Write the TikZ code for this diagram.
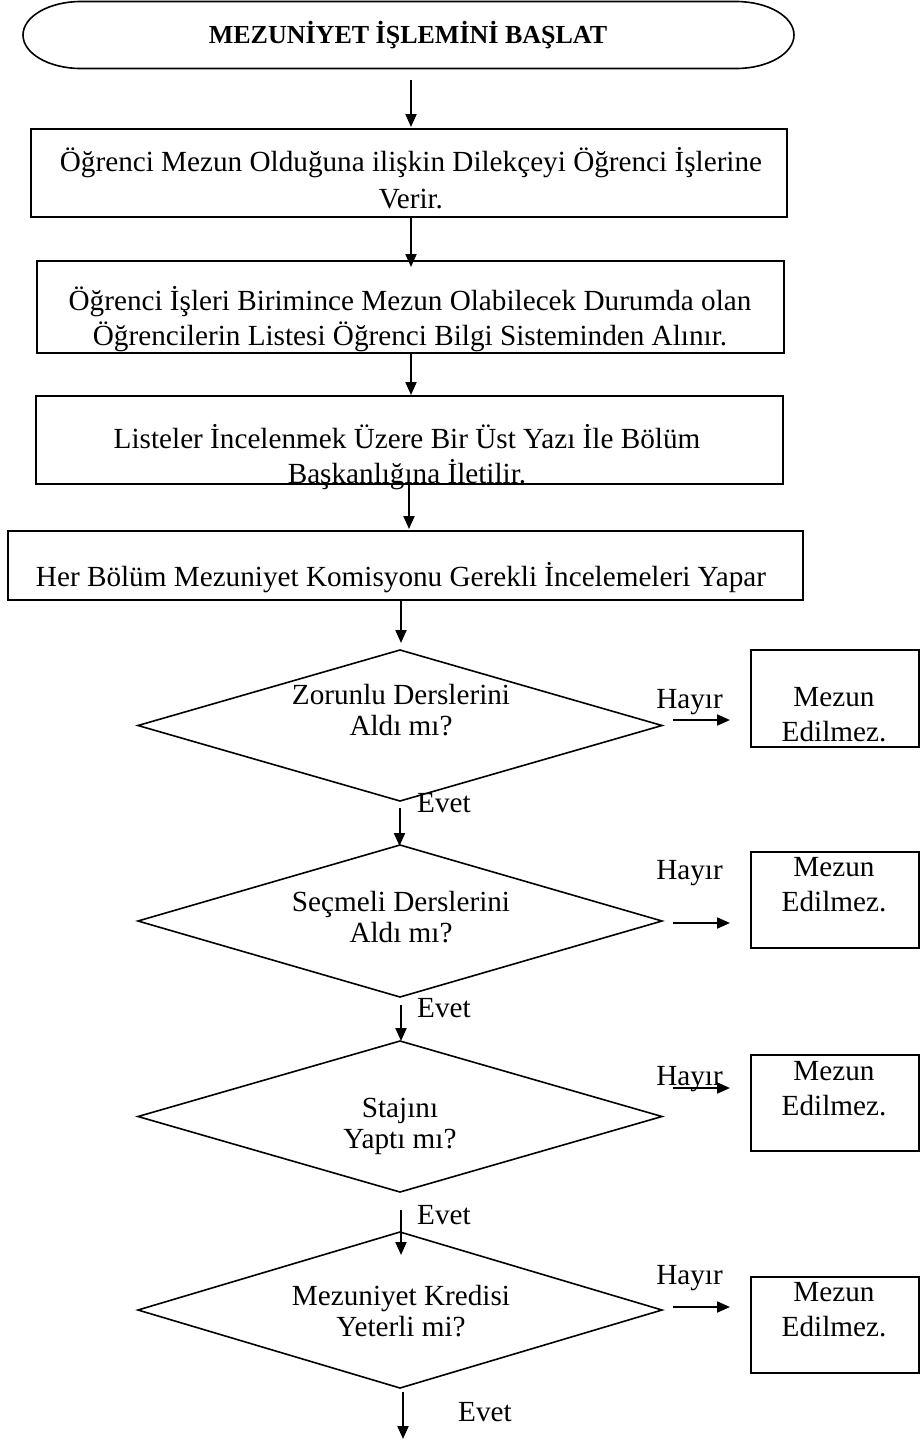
\documentclass[tikz,border=0pt]{standalone}
\usepackage{fontspec}
\setmainfont{Liberation Serif}
\usetikzlibrary{shapes.geometric,arrows.meta}
\begin{document}
\begin{tikzpicture}[x=1pt,y=-1pt,
  shp/.style={line width=1.6pt},
  box/.style={draw,line width=1.6pt,rectangle,inner sep=0pt,outer sep=0pt},
  dia/.style={draw,line width=1.6pt,diamond,inner sep=0pt,outer sep=0pt,minimum width=524pt},
  arr/.style={line width=2pt,-{Triangle[length=13pt,width=11pt]}},
  txt/.style={font=\fontsize{29.2}{35}\selectfont,align=center,inner sep=0pt},
]
\useasboundingbox (0,0) rectangle (924,1441);

% start terminator
\node[rectangle,minimum width=771pt,minimum height=67pt,inner sep=0pt,outer sep=0pt] (start) at (408.5,35) {};
\draw[shp] ([xshift=58pt]start.north west) -- ([xshift=-58pt]start.north east)
  arc[start angle=-90,end angle=90,x radius=58,y radius=33.5]
  -- ([xshift=58pt]start.south west)
  arc[start angle=90,end angle=270,x radius=58,y radius=33.5] -- cycle;
\node[inner sep=0pt,font=\fontsize{26}{30}\selectfont\bfseries] (starttxt) at (408,35) {MEZUNİYET İŞLEMİNİ BAŞLAT};

% process boxes
\node[box,minimum width=756pt,minimum height=88pt] (b1) at (409,173) {};
\node[txt,font=\fontsize{29.2}{37}\selectfont] (t1) at (411,178.5) {Öğrenci Mezun Olduğuna ilişkin Dilekçeyi Öğrenci İşlerine\\Verir.};

\node[box,minimum width=747pt,minimum height=92pt] (b2) at (410.5,307) {};
\node[txt] (t2) at (410,319.5) {Öğrenci İşleri Birimince Mezun Olabilecek Durumda olan\\Öğrencilerin Listesi Öğrenci Bilgi Sisteminden Alınır.};

\node[box,minimum width=747pt,minimum height=88pt] (b3) at (409.5,440) {};
\node[txt] (t3) at (407,457.5) {Listeler İncelenmek Üzere Bir Üst Yazı İle Bölüm\\Başkanlığına İletilir.};

\node[box,minimum width=795pt,minimum height=69pt] (b4) at (405.5,565.5) {};
\node[txt] (t4) at (401,578) {Her Bölüm Mezuniyet Komisyonu Gerekli İncelemeleri Yapar};

% decisions
\node[dia,minimum height=151pt] (d1) at (400,725.5) {};
\node[txt,font=\fontsize{29.2}{31}\selectfont] (q1) at (401,710) {Zorunlu Derslerini\\Aldı mı?};
\node[dia,minimum height=152pt] (d2) at (400,921) {};
\node[txt,font=\fontsize{29.2}{31}\selectfont] (q2) at (401,917.5) {Seçmeli Derslerini\\Aldı mı?};
\node[dia,minimum height=151pt] (d3) at (400,1116.5) {};
\node[txt,font=\fontsize{29.2}{31}\selectfont] (q3) at (400,1126) {Stajını\\Yaptı mı?};
\node[dia,minimum height=156pt] (d4) at (400,1310) {};
\node[txt,font=\fontsize{29.2}{31}\selectfont] (q4) at (401,1311.5) {Mezuniyet Kredisi\\Yeterli mi?};

% reject boxes
\node[box,minimum width=168pt,minimum height=97pt] (m1) at (835,698.5) {};
\node[txt] (mt1) at (834,714.5) {Mezun\\Edilmez.};
\node[box,minimum width=168pt,minimum height=96pt] (m2) at (835,900) {};
\node[txt] (mt2) at (834,884.5) {Mezun\\Edilmez.};
\node[box,minimum width=168pt,minimum height=96pt] (m3) at (835,1103) {};
\node[txt] (mt3) at (834,1089) {Mezun\\Edilmez.};
\node[box,minimum width=168pt,minimum height=96pt] (m4) at (835,1325) {};
\node[txt] (mt4) at (834,1310) {Mezun\\Edilmez.};

% vertical arrows
\draw[arr,shorten <=11.5pt,shorten >=2pt] ([xshift=2.5pt]start.south) -- ([xshift=2pt]b1.north);
\draw[arr,shorten >=-6pt] ([xshift=2pt]b1.south) -- ([xshift=0.5pt]b2.north);
\draw[arr,shorten >=1pt] ([xshift=0.5pt]b2.south) -- ([xshift=1.5pt]b3.north);
\draw[arr,shorten >=2pt] ([xshift=-0.5pt]b3.south) -- ([xshift=3.5pt]b4.north);
\draw[arr,shorten >=7pt] ([xshift=-4.5pt]b4.south) -- ([xshift=1pt]d1.north);
\draw[arr,shorten <=7pt,shorten >=-1pt] ([xshift=-0.5pt]d1.south) -- ([xshift=-0.5pt]d2.north);
\draw[arr,shorten <=8pt] ([xshift=1pt]d2.south) -- ([xshift=1pt]d3.north);
\draw[arr,shorten <=18pt,shorten >=-23pt] ([xshift=1pt]d3.south) -- ([xshift=1pt]d4.north);
\coordinate (endpt) at (403,1439);
\draw[arr,shorten <=4pt] ([xshift=3pt]d4.south) -- (endpt);

% horizontal arrows
\draw[arr] ([xshift=11pt,yshift=5.5pt]d1.east) -- ([xshift=-21pt,yshift=-21.5pt]m1.west);
\draw[arr] ([xshift=11pt,yshift=-2pt]d2.east) -- ([xshift=-21pt,yshift=-23pt]m2.west);
\draw[arr] ([xshift=11pt,yshift=28.5pt]d3.east) -- ([xshift=-21pt,yshift=15pt]m3.west);
\draw[arr] ([xshift=11pt,yshift=3pt]d4.east) -- ([xshift=-21pt,yshift=18pt]m4.west);

% labels
\node[txt] (h1) at (689.5,702) {Hayır};
\node[txt] (h2) at (689.5,873) {Hayır};
\node[txt] (h3) at (689.5,1079) {Hayır};
\node[txt] (h4) at (689.5,1278) {Hayır};
\node[txt,anchor=west] (e1) at (417,803) {Evet};
\node[txt,anchor=west] (e2) at (417,1008) {Evet};
\node[txt,anchor=west] (e3) at (417,1215) {Evet};
\node[txt,anchor=west] (e4) at (458,1412) {Evet};
\end{tikzpicture}
\end{document}
